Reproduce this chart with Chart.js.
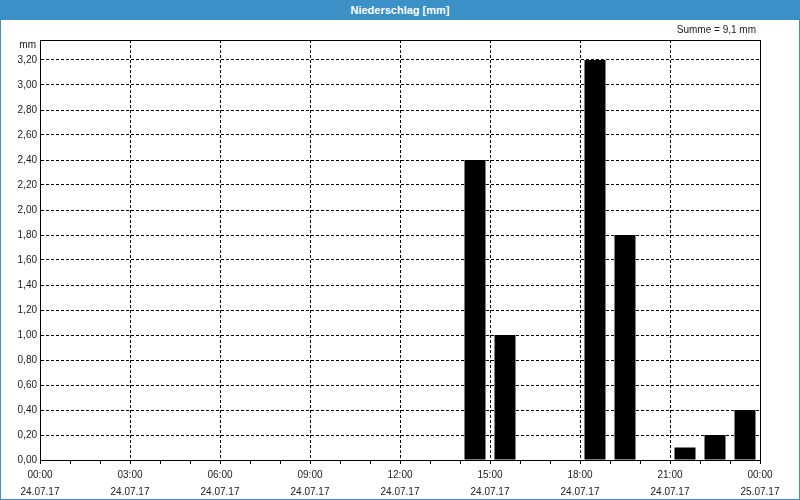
<!DOCTYPE html>
<html>
<head>
<meta charset="utf-8">
<script src="https://cdn.jsdelivr.net/npm/chart.js@4/dist/chart.umd.min.js"></script>
<style>
  html, body { margin: 0; padding: 0; background: #fff; }
  #frame { width: 798px; height: 499px; border: 1px solid #3c90c8; border-top: 0; position: relative; }
  #bar { height: 20px; background: #3c90c8; color: #fff; font: bold 11px "Liberation Sans", sans-serif;
         text-align: center; line-height: 20px; margin: 0 -1px; }
  #wrap { width: 798px; height: 479px; }
</style>
</head>
<body>
<div id="frame">
  <div id="bar">Niederschlag [mm]</div>
  <div id="wrap"><canvas id="MyChart" width="798" height="479"></canvas></div>
</div>
<script>
// hourly precipitation, bar centred in its hour
const hours = [14.5, 15.5, 18.5, 19.5, 21.5, 22.5, 23.5];
const rain = [2.4, 1.0, 3.2, 1.8, 0.1, 0.2, 0.4];
const timeLabels = ['00:00', '03:00', '06:00', '09:00', '12:00', '15:00', '18:00', '21:00', '00:00'];
const dateLabels = ['24.07.17', '24.07.17', '24.07.17', '24.07.17', '24.07.17', '24.07.17', '24.07.17', '24.07.17', '25.07.17'];
const sumText = 'Summe = 9,1 mm';
const unitText = 'mm';

const font = { family: 'Liberation Sans', size: 10 };
const textColor = '#1a1a1a';

const extras = {
  id: 'extras',
  afterDraw(chart) {
    const ctx = chart.ctx;
    const a = chart.chartArea;
    ctx.save();
    ctx.strokeStyle = '#000';
    ctx.lineWidth = 1;
    ctx.strokeRect(Math.round(a.left) + 0.5, Math.round(a.top) + 0.5,
      Math.round(a.right - a.left), Math.round(a.bottom - a.top));
    ctx.fillStyle = textColor;
    ctx.font = '10px "Liberation Sans"';
    ctx.textAlign = 'right';
    ctx.textBaseline = 'middle';
    ctx.fillText(unitText, a.left - 4, a.top + 5);
    ctx.fillText(sumText, a.right - 4, a.top - 10);
    ctx.restore();
  }
};

let chart = new Chart('MyChart', {
  type: 'bar',
  data: {
    datasets: [{
      data: hours.map((h, i) => ({ x: h, y: rain[i] })),
      backgroundColor: '#000',
      borderWidth: 0,
      barPercentage: 0.7,
      categoryPercentage: 1
    }]
  },
  options: {
    responsive: false,
    animation: false,
    layout: { padding: { top: 20, right: 39, left: 0, bottom: 0 } },
    plugins: { legend: { display: false }, tooltip: { enabled: false } },
    scales: {
      x: {
        type: 'linear',
        min: 0,
        max: 24,
        offset: false,
        afterFit: (s) => { s.height = 39; },
        ticks: {
          stepSize: 1,
          autoSkip: false,
          maxRotation: 0,
          padding: 3,
          color: textColor,
          font: { family: 'Liberation Sans', size: 10, lineHeight: 1.7 },
          callback: (v) => v % 3 === 0 ? [timeLabels[v / 3], dateLabels[v / 3]] : ''
        },
        grid: {
          offset: false,
          color: (c) => c.tick && c.tick.value % 3 === 0 ? '#000' : 'rgba(0,0,0,0)',
          tickColor: '#000',
          tickLength: 4,
          tickBorderDash: []
        },
        border: { color: '#000', dash: [3, 2] }
      },
      y: {
        min: 0,
        max: 3.36,
        afterFit: (s) => { s.width = 39; },
        afterBuildTicks: (s) => { s.ticks = s.ticks.filter(t => t.value <= 3.2001); },
        ticks: {
          stepSize: 0.2,
          padding: 3,
          color: textColor,
          font: font,
          callback: (v) => v.toFixed(2).replace('.', ',')
        },
        grid: { color: '#000', drawTicks: false },
        border: { color: '#000', dash: [3, 2] }
      }
    }
  },
  plugins: [extras]
});
</script>
</body>
</html>
